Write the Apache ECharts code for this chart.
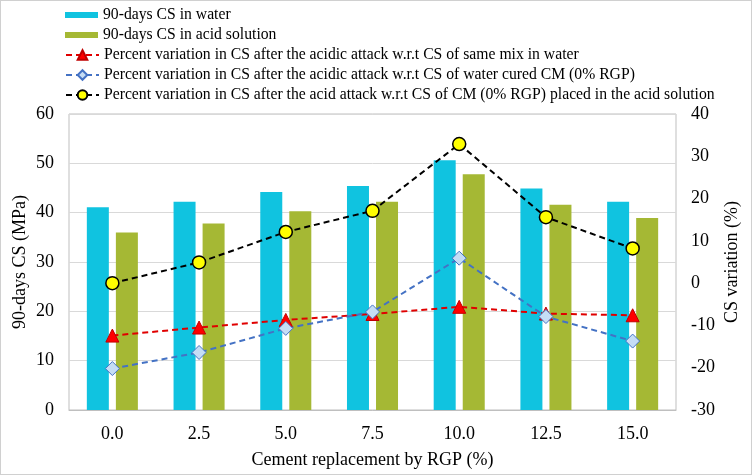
<!DOCTYPE html>
<html><head><meta charset="utf-8">
<script src="https://cdn.jsdelivr.net/npm/echarts@6/dist/echarts.min.js"></script>
<style>
html,body{margin:0;padding:0;background:#fff;}
#c{width:752px;height:475px;box-sizing:border-box;border:1px solid #d0d0d0;}
</style></head>
<body><div id="c"></div>
<script>
const categories = ['0.0','2.5','5.0','7.5','10.0','12.5','15.0'];
const csWater = [41.1, 42.2, 44.2, 45.4, 50.6, 44.9, 42.2];
const csAcid = [36.0, 37.8, 40.3, 42.2, 47.8, 41.6, 38.9];
const varSameMix = [-12.4, -10.5, -8.7, -7.3, -5.6, -7.2, -7.6];
const varWaterCM = [-20.2, -16.4, -10.7, -6.8, 5.9, -7.9, -13.7];
const varAcidCM = [0.0, 4.9, 12.1, 17.1, 32.9, 15.6, 8.2];
const names = [
  '90-days CS in water',
  '90-days CS in acid solution',
  'Percent variation in CS after the acidic attack w.r.t CS of same mix in water',
  'Percent variation in CS after the acidic attack w.r.t CS of water cured CM (0% RGP)',
  'Percent variation in CS after the acid attack w.r.t CS of CM (0% RGP) placed in the acid solution'
];
const FONT = 'Liberation Serif';
const chart = echarts.init(document.getElementById('c'));
const legendText = {fontFamily: FONT, fontSize: 15.7, color: '#000', lineHeight: 20};
chart.setOption({
  animation: false,
  textStyle: {fontFamily: FONT},
  legend: [
    {data: [names[0], names[1]], orient: 'vertical', left: 64, top: 4, itemWidth: 33, itemHeight: 6, itemGap: 0, textStyle: legendText, icon: 'rect', padding: 0},
    {data: [names[2], names[3], names[4]], orient: 'vertical', left: 64, top: 44, itemWidth: 33, itemHeight: 12, itemGap: 0, textStyle: legendText, padding: 0}
  ],
  grid: {left: 68, right: 75, top: 113, bottom: 64, show: true, borderColor: '#bfbfbf', borderWidth: 1, containLabel: false, outerBoundsMode: 'none'},
  xAxis: {
    type: 'category', data: categories,
    name: 'Cement replacement by RGP (%)', nameLocation: 'middle', nameGap: 41,
    nameTextStyle: {fontFamily: FONT, fontSize: 18, color: '#000'},
    axisLine: {lineStyle: {color: '#bfbfbf'}}, axisTick: {show: false},
    axisLabel: {fontFamily: FONT, fontSize: 18, color: '#000', margin: 15}
  },
  yAxis: [
    {type: 'value', min: 0, max: 60, interval: 10,
     name: '90-days CS (MPa)', nameLocation: 'middle', nameGap: 40, nameMoveOverlap: false,
     nameTextStyle: {fontFamily: FONT, fontSize: 18, color: '#000'},
     axisLine: {show: false}, axisTick: {show: false},
     axisLabel: {fontFamily: FONT, fontSize: 18, color: '#000', margin: 15},
     splitLine: {lineStyle: {color: '#d9d9d9'}}},
    {type: 'value', min: -30, max: 40, interval: 10, position: 'right',
     name: 'CS variation (%)', nameLocation: 'middle', nameGap: 47, nameRotate: 90, nameMoveOverlap: false,
     nameTextStyle: {fontFamily: FONT, fontSize: 18, color: '#000'},
     axisLine: {show: false}, axisTick: {show: false},
     axisLabel: {fontFamily: FONT, fontSize: 18, color: '#000', margin: 15},
     splitLine: {show: false}}
  ],
  series: [
    {name: names[0], type: 'bar', data: csWater, barWidth: 22, barGap: '32%', itemStyle: {color: '#10C3E0'}},
    {name: names[1], type: 'bar', data: csAcid, barWidth: 22, itemStyle: {color: '#A5B834'}},
    {name: names[2], type: 'line', yAxisIndex: 1, data: varSameMix, symbol: 'triangle', symbolSize: 13,
     lineStyle: {color: '#E00000', width: 2, type: [6, 4]}, itemStyle: {color: '#FF0000', borderColor: '#C00000', borderWidth: 1}, z: 3},
    {name: names[3], type: 'line', yAxisIndex: 1, data: varWaterCM, symbol: 'diamond', symbolSize: 14,
     lineStyle: {color: '#4472C4', width: 2, type: [6, 4]}, itemStyle: {color: '#C5DDF5', borderColor: '#4472C4', borderWidth: 1}, z: 3},
    {name: names[4], type: 'line', yAxisIndex: 1, data: varAcidCM, symbol: 'circle', symbolSize: 13,
     lineStyle: {color: '#000', width: 2, type: [6, 4]}, itemStyle: {color: '#FFFF00', borderColor: '#000', borderWidth: 1.5}, z: 4}
  ]
});
</script></body></html>
